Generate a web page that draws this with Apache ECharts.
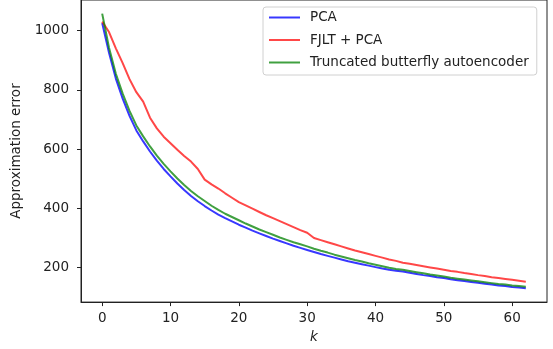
<!DOCTYPE html>
<html>
<head>
<meta charset="utf-8">
<script src="https://cdn.jsdelivr.net/npm/echarts@6/dist/echarts.min.js"></script>
<style>html,body{margin:0;padding:0;background:#fff;}#c{width:553px;height:349px;}</style>
</head>
<body>
<div id="c"></div>
<script>
const kValues = Array.from({length: 63}, (_, i) => i);
const xTicks = [0, 10, 20, 30, 40, 50, 60];
const yTicks = [200, 400, 600, 800, 1000];
const seriesNames = ['PCA', 'FJLT + PCA', 'Truncated butterfly autoencoder'];

const pca = [1025, 925, 838, 770, 712, 663, 626, 592, 561, 533,
  508, 484, 462, 442, 424, 408, 393, 379, 367, 356,
  345, 335, 325, 316, 307, 298, 290, 282, 274, 267,
  260, 253, 246, 240, 234, 228, 222, 217, 212, 207,
  202, 197, 193, 190, 187, 183, 179, 175, 172, 168,
  165, 161, 158, 155, 152, 149, 146, 143, 140, 138,
  135, 133, 131];

const fjlt = [1030, 995, 940, 890, 836, 792, 760, 706, 670, 642,
  620, 598, 577, 558, 533, 497, 481, 467, 451, 436,
  421, 410, 399, 388, 377, 367, 357, 347, 337, 327,
  318, 300, 293, 286, 279, 272, 265, 258, 252, 246,
  240, 234, 228, 223, 217, 213, 209, 205, 201, 197,
  193, 189, 186, 182, 179, 175, 172, 168, 165, 162,
  159, 156, 153];

const butterfly = [1057, 942, 854, 787, 729, 680, 643, 609, 578, 550,
  525, 501, 479, 459, 441, 425, 409, 395, 382, 371,
  360, 349, 339, 329, 320, 311, 302, 294, 286, 279,
  272, 264, 257, 251, 244, 238, 232, 226, 221, 215,
  210, 205, 200, 196, 193, 189, 185, 181, 177, 174,
  170, 166, 163, 160, 157, 154, 151, 148, 145, 143,
  140, 138, 136];

const colors = ['rgba(0,0,255,0.78)', 'rgba(255,0,0,0.72)', 'rgba(0,128,0,0.75)'];
const dataSets = [pca, fjlt, butterfly];
const FONT = 'DejaVu Sans';
const FS = 13.5;

const chart = echarts.init(document.getElementById('c'), null, {renderer: 'canvas'});
chart.setOption({
  animation: false,
  backgroundColor: '#fff',
  grid: {left: 81, right: 6, top: -1, bottom: 45, show: true, borderColor: '#222', borderWidth: 1, backgroundColor: 'transparent'},
  legend: {
    orient: 'vertical',
    left: 263, top: 7,
    padding: [3, 8, 5, 6],
    itemGap: 7.5,
    itemWidth: 31, itemHeight: 2,
    backgroundColor: '#fff',
    borderColor: '#d0d0d0', borderWidth: 1, borderRadius: 3,
    textStyle: {fontFamily: FONT, fontSize: FS, color: '#222', lineHeight: 15, padding: [0, 0, 0, 5]},
    data: seriesNames.map((n, i) => ({name: n, icon: 'rect', itemStyle: {color: colors[i]}}))
  },
  xAxis: {
    type: 'value', min: -3.1, max: 65.1,
    name: 'k', nameLocation: 'middle', nameGap: 10,
    nameTextStyle: {fontFamily: FONT, fontSize: FS, fontStyle: 'italic', color: '#222'},
    axisLine: {show: true, onZero: false, lineStyle: {color: '#222', width: 1}},
    axisTick: {show: true, length: 4, customValues: xTicks, lineStyle: {color: '#222'}},
    axisLabel: {customValues: xTicks, margin: 9, fontFamily: FONT, fontSize: FS, color: '#222', formatter: v => String(v)},
    splitLine: {show: false}
  },
  yAxis: {
    type: 'value', min: 84, max: 1103,
    name: 'Approximation error', nameLocation: 'middle', nameGap: 54,
    nameTextStyle: {fontFamily: FONT, fontSize: FS, color: '#222'},
    axisLine: {show: true, onZero: false, lineStyle: {color: '#222', width: 1}},
    axisTick: {show: true, length: 4, customValues: yTicks, lineStyle: {color: '#222'}},
    axisLabel: {customValues: yTicks, margin: 12, fontFamily: FONT, fontSize: FS, color: '#222', formatter: v => String(v)},
    splitLine: {show: false}
  },
  series: seriesNames.map((n, i) => ({
    name: n, type: 'line', showSymbol: false, symbol: 'none',
    data: kValues.map((k, j) => [k, dataSets[i][j]]),
    lineStyle: {color: colors[i], width: 2},
    itemStyle: {color: colors[i]},
    z: 2 + i
  }))
});
</script>
</body>
</html>
